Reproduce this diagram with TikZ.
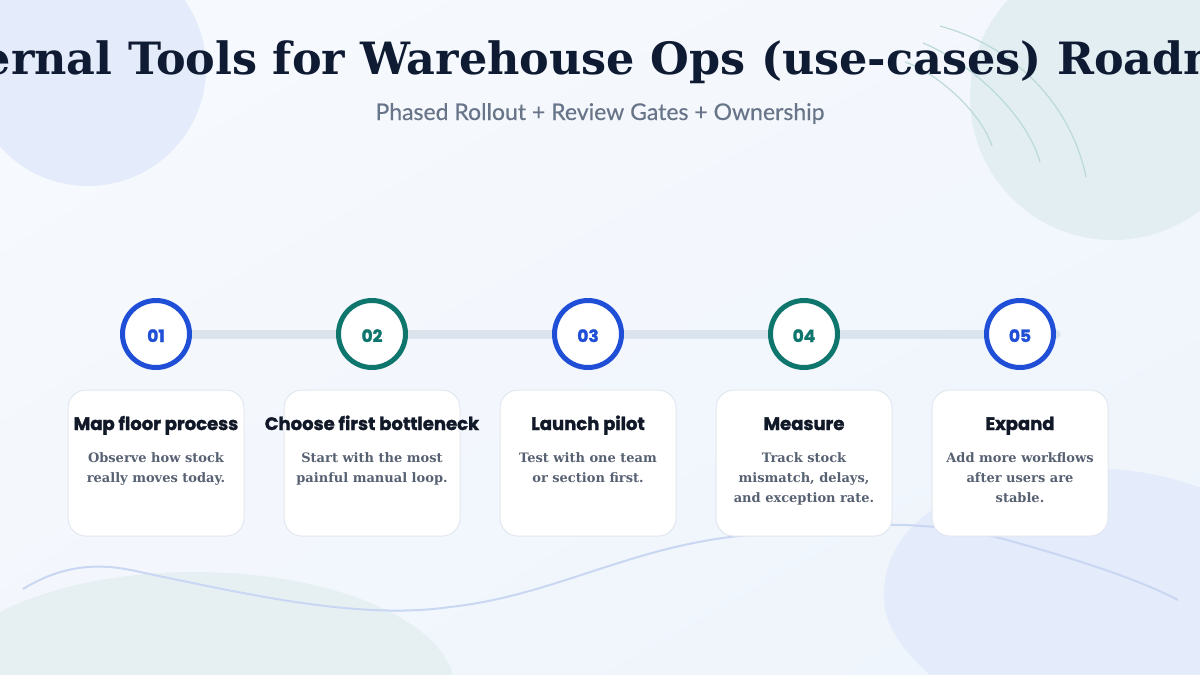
\documentclass[tikz,border=0pt]{standalone}
\usepackage{fontspec}
\usetikzlibrary{shadings}
\setmainfont{DejaVu Serif}
\newfontfamily\headfont[BoldFeatures={FakeBold=1.6}]{Poppins}
\newfontfamily\subfont[FakeBold=0.4]{Lato}
\definecolor{titleink}{HTML}{0F1B33}
\definecolor{subgray}{HTML}{687589}
\definecolor{ink}{HTML}{111827}
\definecolor{descgray}{HTML}{576172}
\definecolor{bluec}{HTML}{1F4FD6}
\definecolor{tealc}{HTML}{0F766E}
\definecolor{barc}{HTML}{DBE3ED}
\definecolor{cardborder}{HTML}{E2E8F0}
\definecolor{bgA}{HTML}{F7FAFE}
\definecolor{bgB}{HTML}{EEF4FC}
\definecolor{bgC}{HTML}{F3F7FD}
\definecolor{blobblue}{HTML}{E4EBFA}
\definecolor{blobteal}{HTML}{E3EEF2}
\definecolor{blobteal2}{HTML}{E6F0F3}
\definecolor{arcteal}{HTML}{BCDAD8}
\definecolor{wavec}{HTML}{C9D7F2}
\begin{document}
\begin{tikzpicture}[x=1pt,y=-1pt,
  ring/.style={circle, minimum size=67pt, line width=5pt, fill=white, inner sep=0pt,
    text height=16pt, text depth=0pt, font=\headfont\bfseries\fontsize{17}{20}\selectfont},
  bluering/.style={ring, draw=bluec, text=bluec},
  tealring/.style={ring, draw=tealc, text=tealc},
  card/.style={draw=cardborder, line width=1pt, fill=white, rounded corners=18pt,
    minimum width=176pt, minimum height=146pt, inner sep=0pt},
  cardtitle/.style={font=\headfont\bfseries\fontsize{18}{20}\selectfont, text=ink, anchor=base, inner sep=0pt},
  desc/.style={font=\bfseries\fontsize{13}{20}\selectfont, text=descgray, align=center, anchor=north, inner sep=0pt},
  bar/.style={draw=barc, line width=9pt, line cap=round},
  deco/.style={draw=arcteal, line width=1.2pt},
  wave/.style={draw=wavec, line width=2pt}
]
\useasboundingbox (0,0) rectangle (1200,675);
\begin{scope}
\clip (0,0) rectangle (1200,675);
% background
\shade[upper left=bgA, upper right=bgC, lower left=bgC, lower right=bgB] (0,0) rectangle (1200,675);
% decorative blobs
\fill[blobblue] (88,68) circle[radius=118pt];
\fill[blobteal] (1113,97) circle[radius=143pt];
\fill[blobteal2] (195,690) ellipse[x radius=260pt, y radius=118pt];
\fill[blobblue] (884,600) .. controls (880,510) and (990,468) .. (1085,468)
  .. controls (1160,468) and (1220,490) .. (1260,520) -- (1260,700) -- (960,700)
  .. controls (915,665) and (886,635) .. (884,600) -- cycle;
% arcs
\draw[deco] (940,26) .. controls (1010,45) and (1070,100) .. (1086,177);
\draw[deco] (923,43) .. controls (965,60) and (1025,110) .. (1040,162);
\draw[deco] (905,62) .. controls (935,72) and (980,110) .. (992,146);
% wave
\draw[wave] (23,589) .. controls (70,560) and (110,565) .. (140,572)
  .. controls (250,595) and (360,620) .. (450,607)
  .. controls (560,595) and (640,540) .. (765,534)
  .. controls (850,522) and (930,520) .. (1000,538)
  .. controls (1080,560) and (1140,580) .. (1178,600);
% title
\node[font=\bfseries\fontsize{44.5}{54}\selectfont, text=titleink, anchor=base, inner sep=0pt] (title) at (600,74)
  {Internal Tools for Warehouse Ops (use-cases) Roadmap};
\node[font=\subfont\fontsize{23}{26}\selectfont, text=subgray, anchor=base, inner sep=0pt] (subtitle) at (600,120)
  {Phased Rollout + Review Gates + Ownership};
% timeline
\coordinate (barstart) at (156,334);
\coordinate (barend) at (1056,334);
\draw[bar] (barstart) -- (barend);
\node[bluering] (c1) at (156,334) {01};
\node[tealring] (c2) at (372,334) {02};
\node[bluering] (c3) at (588,334) {03};
\node[tealring] (c4) at (804,334) {04};
\node[bluering] (c5) at (1020,334) {05};
% cards
\node[card] (k1) at (156,463) {};
\node[card] (k2) at (372,463) {};
\node[card] (k3) at (588,463) {};
\node[card] (k4) at (804,463) {};
\node[card] (k5) at (1020,463) {};
\node[cardtitle] (t1) at (156,430) {Map floor process};
\node[cardtitle] (t2) at (372,430) {Choose first bottleneck};
\node[cardtitle] (t3) at (588,430) {Launch pilot};
\node[cardtitle] (t4) at (804,430) {Measure};
\node[cardtitle] (t5) at (1020,430) {Expand};
\node[desc] (d1) at (156,452.5) {Observe how stock\\really moves today.};
\node[desc] (d2) at (372,452.5) {Start with the most\\painful manual loop.};
\node[desc] (d3) at (588,452.5) {Test with one team\\or section first.};
\node[desc] (d4) at (804,452.5) {Track stock\\mismatch, delays,\\and exception rate.};
\node[desc] (d5) at (1020,452.5) {Add more workflows\\after users are\\stable.};
\end{scope}
\end{tikzpicture}
\end{document}
